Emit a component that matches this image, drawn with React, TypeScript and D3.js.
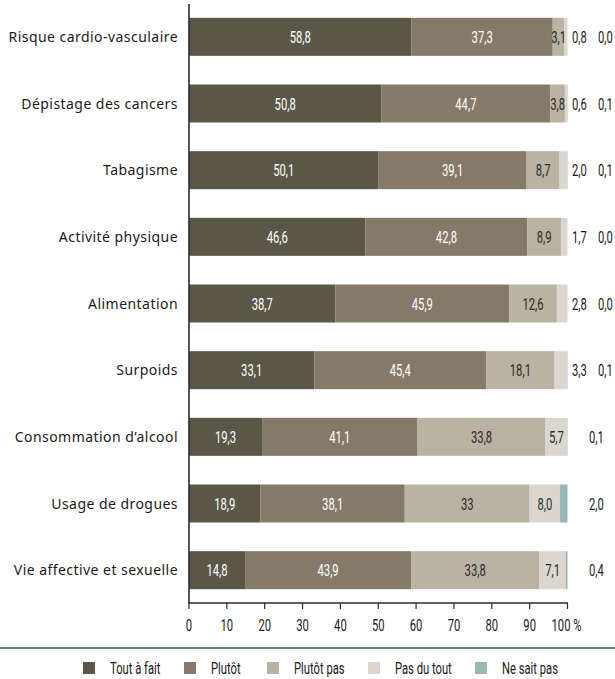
import React from "react";
import * as d3 from "d3";

const categories = [
  "Risque cardio-vasculaire",
  "Dépistage des cancers",
  "Tabagisme",
  "Activité physique",
  "Alimentation",
  "Surpoids",
  "Consommation d’alcool",
  "Usage de drogues",
  "Vie affective et sexuelle",
];

const seriesNames = ["Tout à fait", "Plutôt", "Plutôt pas", "Pas du tout", "Ne sait pas"];

const toutAFait = ["58,8", "50,8", "50,1", "46,6", "38,7", "33,1", "19,3", "18,9", "14,8"];
const plutot = ["37,3", "44,7", "39,1", "42,8", "45,9", "45,4", "41,1", "38,1", "43,9"];
const plutotPas = ["3,1", "3,8", "8,7", "8,9", "12,6", "18,1", "33,8", "33", "33,8"];
const pasDuTout = ["0,8", "0,6", "2,0", "1,7", "2,8", "3,3", "5,7", "8,0", "7,1"];
const neSaitPas = ["0,0", "0,1", "0,1", "0,0", "0,0", "0,1", "0,1", "2,0", "0,4"];

const xTicks = [0, 10, 20, 30, 40, 50, 60, 70, 80, 90, 100];
const xTickLabels = ["0", "10", "20", "30", "40", "50", "60", "70", "80", "90", "100 %"];

const colors = ["#5a5749", "#857a69", "#bab2a2", "#dcd7ce", "#98b8b4"];
const textColors = ["#ffffff", "#ffffff", "#2a2a2a", "#2a2a2a", "#2a2a2a"];

const W = 615;
const H = 679;
const labelFont = "'Noto Sans', 'Open Sans', sans-serif";

const parse = (s: string) => parseFloat(s.replace(",", "."));

function NText({
  x,
  y,
  anchor = "start",
  fill = "#1a1a1a",
  children,
}: {
  x: number;
  y: number;
  anchor?: string;
  fill?: string;
  children: React.ReactNode;
}) {
  return (
    <text
      transform={`translate(${x},${y}) scale(0.66,1)`}
      textAnchor={anchor as any}
      fontFamily="Roboto, sans-serif"
      fontSize={17}
      fill={fill}
      style={{ whiteSpace: "pre" }}
    >
      {children}
    </text>
  );
}

export default function App() {
  const series = [toutAFait, plutot, plutotPas, pasDuTout, neSaitPas];
  const x = d3.scaleLinear().domain([0, 100]).range([189, 567.5]);
  const y = d3
    .scaleBand<string>()
    .domain(categories)
    .range([3.5, 603.5])
    .paddingInner(0.43)
    .paddingOuter(0.215);
  const bw = y.bandwidth();

  const rows = categories.map((cat) => {
    const i = categories.indexOf(cat);
    const labels = series.map((s) => s[i]);
    const vals = labels.map(parse);
    const starts = vals.map((_, k) => d3.sum(vals.slice(0, k)));
    return { cat, labels, vals, starts };
  });

  const legendX = [83, 184, 267, 368, 475];

  return (
    <svg
      width={W}
      height={H}
      style={{ position: "absolute", left: 0, top: 0, background: "#fff" }}
    >
      {rows.map((r) => {
        const y0 = y(r.cat)!;
        const cy = y0 + bw / 2;
        const base = cy + 6;
        const pdtOutside = r.vals[3] < 5;
        return (
          <g key={r.cat}>
            <text
              x={178}
              y={cy + 5}
              textAnchor="end"
              fontFamily={labelFont}
              fontSize={14}
              letterSpacing={0.45}
              fill="#1a1a1a"
            >
              {r.cat}
            </text>
            {r.vals.map((v, k) => (
              <rect
                key={k}
                x={x(r.starts[k])}
                y={y0}
                width={Math.max(0, x(r.starts[k] + v) - x(r.starts[k]))}
                height={bw}
                fill={colors[k]}
              />
            ))}
            {r.vals.map((v, k) => {
              if (k === 4) {
                return (
                  <NText key={k} x={pdtOutside ? 598 : 589} y={base}>
                    {r.labels[k]}
                  </NText>
                );
              }
              if (k === 3 && pdtOutside) {
                return (
                  <NText key={k} x={572} y={base}>
                    {r.labels[k]}
                  </NText>
                );
              }
              return (
                <NText
                  key={k}
                  x={x(r.starts[k] + v / 2)}
                  y={base}
                  anchor="middle"
                  fill={textColors[k]}
                >
                  {r.labels[k]}
                </NText>
              );
            })}
          </g>
        );
      })}

      {/* axes */}
      <line x1={189} x2={189} y1={4} y2={603} stroke="#2b2b2b" strokeWidth={1.6} />
      <line x1={188.2} x2={568} y1={603} y2={603} stroke="#2b2b2b" strokeWidth={1.6} />
      {xTicks.map((t, i) => (
        <g key={t}>
          <line x1={x(t)} x2={x(t)} y1={603} y2={609} stroke="#2b2b2b" strokeWidth={1.2} />
          <NText x={i === xTicks.length - 1 ? x(t) - 1 : x(t)} y={630.5} anchor="middle">
            {xTickLabels[i]}
          </NText>
        </g>
      ))}

      {/* separator */}
      <line x1={0} x2={W} y1={648} y2={648} stroke="#5e867d" strokeWidth={2} />

      {/* legend */}
      {seriesNames.map((n, k) => (
        <g key={n}>
          <rect x={legendX[k]} y={662} width={12} height={12} fill={colors[k]} />
          <NText x={legendX[k] + 27} y={674}>
            {n}
          </NText>
        </g>
      ))}
    </svg>
  );
}
